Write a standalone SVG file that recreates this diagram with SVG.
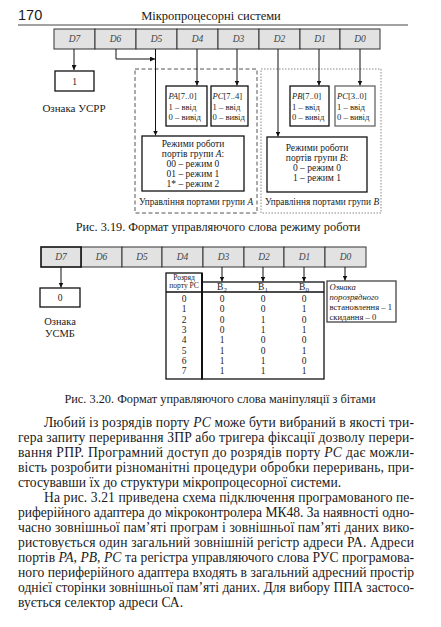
<svg xmlns="http://www.w3.org/2000/svg" width="441" height="627" viewBox="0 0 441 627">
<defs>
<marker id="ar" viewBox="0 0 6 6" refX="6" refY="3" markerWidth="5" markerHeight="5" orient="auto" markerUnits="userSpaceOnUse">
<path d="M0,0 L6,3 L0,6 z" fill="#111"/>
</marker>
<style>
text{fill:#1a1a1a}
.reg{fill:#e2e2e2;stroke:#333;stroke-width:1}
.rl{font-size:9.5px;font-style:italic;fill:#444;text-anchor:middle}
.box{fill:#fff;stroke:#111;stroke-width:1.3}
.bt{font-size:9.5px}
.st{font-size:8.6px}
.c{text-anchor:middle}
.i{font-style:italic}
.cn{fill:none;stroke:#111;stroke-width:1}
.body{font-size:13.6px}
.cap{font-size:12.3px;text-anchor:middle}
.tb{font-size:9.5px;text-anchor:middle}
</style>
</defs>
<rect width="441" height="627" fill="#fff"/>
<g font-family="'Liberation Serif', 'DejaVu Serif', 'Times New Roman', serif">

<g id="header">
<text x="18" y="20" font-family="'Liberation Sans', Arial, sans-serif" font-size="14.5">170</text>
<text x="211" y="20" class="c" font-size="12.5">Мікропроцесорні системи</text>
<line x1="18" y1="25" x2="408" y2="25" stroke="#444" stroke-width="1"/>
</g>

<!-- Figure 3.19 -->
<g id="reg1">
<rect class="reg" x="54" y="29" width="41" height="20"/>
<rect class="reg" x="95" y="29" width="41" height="20"/>
<rect class="reg" x="136" y="29" width="41" height="20"/>
<rect class="reg" x="177" y="29" width="41" height="20"/>
<rect class="reg" x="218" y="29" width="41" height="20"/>
<rect class="reg" x="259" y="29" width="41" height="20"/>
<rect class="reg" x="300" y="29" width="40" height="20"/>
<rect class="reg" x="340" y="29" width="40" height="20"/>
<text class="rl" x="74.5" y="42">D7</text>
<text class="rl" x="115.5" y="42">D6</text>
<text class="rl" x="156.5" y="42">D5</text>
<text class="rl" x="197.5" y="42">D4</text>
<text class="rl" x="238.5" y="42">D3</text>
<text class="rl" x="279.5" y="42">D2</text>
<text class="rl" x="320" y="42">D1</text>
<text class="rl" x="360" y="42">D0</text>
</g>

<g id="groupA">
<rect x="135" y="69" width="122" height="144" fill="none" stroke="#555" stroke-width="1" stroke-dasharray="4,2.5"/>
<text class="c" x="196" y="205" font-size="9.3">Управління портами групи <tspan class="i">A</tspan></text>
</g>
<g id="groupB">
<rect x="261" y="69" width="120" height="144" fill="none" stroke="#888" stroke-width="1" stroke-dasharray="1.5,1.5"/>
<text class="c" x="322" y="205" font-size="9.3">Управління портами групи <tspan class="i">B</tspan></text>
</g>

<g id="usrr">
<rect class="box" x="55" y="71" width="39" height="20"/>
<text class="bt c" x="74.5" y="85">1</text>
<text class="c" x="74" y="112" font-size="11">Ознака УСРР</text>
</g>

<g id="pa">
<rect class="box" x="166" y="86" width="41" height="40"/>
<text class="st" x="168.5" y="99"><tspan class="i">PA</tspan>[7..0]</text>
<text class="st" x="168.5" y="109.5">1 – ввід</text>
<text class="st" x="168.5" y="120">0 – вивід</text>
</g>
<g id="pch">
<rect class="box" x="211" y="86" width="37" height="40"/>
<text class="st" x="212.5" y="99"><tspan class="i">PC</tspan>[7..4]</text>
<text class="st" x="212.5" y="109.5">1 – ввід</text>
<text class="st" x="212.5" y="120">0 – вивід</text>
</g>
<g id="pb">
<rect class="box" x="290" y="86" width="39" height="40"/>
<text class="st" x="292" y="99"><tspan class="i">PB</tspan>[7..0]</text>
<text class="st" x="292" y="109.5">1 – ввід</text>
<text class="st" x="292" y="120">0 – вивід</text>
</g>
<g id="pcl">
<rect x="335" y="86" width="40" height="40" fill="#fff" stroke="#666" stroke-width="1.3"/>
<text class="st" x="337" y="99"><tspan class="i">PC</tspan>[3..0]</text>
<text class="st" x="337" y="109.5">1 – ввід</text>
<text class="st" x="337" y="120">0 – вивід</text>
</g>

<g id="modeA">
<rect class="box" x="142" y="136" width="102" height="55"/>
<text class="bt c" x="193" y="147">Режими роботи</text>
<text class="bt c" x="193" y="157">портів групи <tspan class="i">A</tspan>:</text>
<text class="bt c" x="193" y="167">00 – режим 0</text>
<text class="bt c" x="193" y="177">01 – режим 1</text>
<text class="bt c" x="193" y="187">1* – режим 2</text>
</g>
<g id="modeB">
<rect class="box" x="267" y="137" width="100" height="55"/>
<text class="bt c" x="317" y="151">Режими роботи</text>
<text class="bt c" x="317" y="161">портів групи <tspan class="i">B</tspan>:</text>
<text class="bt c" x="317" y="171">0 – режим 0</text>
<text class="bt c" x="317" y="181">1 – режим 1</text>
</g>

<g id="connectors1">
<path class="cn" d="M74,49 V70" marker-end="url(#ar)"/>
<path class="cn" d="M116,49 V59 H155" marker-end="url(#ar)"/>
<path class="cn" d="M155.5,49 V135.5" marker-end="url(#ar)"/>
<path class="cn" d="M197,49 V85.5" marker-end="url(#ar)"/>
<path class="cn" d="M237,49 V85.5" marker-end="url(#ar)"/>
<path class="cn" d="M278,49 V136.5" marker-end="url(#ar)"/>
<path class="cn" d="M319,49 V85.5" marker-end="url(#ar)"/>
<path class="cn" d="M360,49 V85.5" marker-end="url(#ar)"/>
</g>

<text class="cap" x="218" y="231">Рис. 3.19. Формат управляючого слова режиму роботи</text>

<!-- Figure 3.20 -->
<g id="reg2">
<rect class="reg" x="81" y="247" width="41" height="20"/>
<rect class="reg" x="122" y="247" width="40" height="20"/>
<rect class="reg" x="162" y="247" width="41" height="20"/>
<rect class="reg" x="203" y="247" width="41" height="20"/>
<rect class="reg" x="244" y="247" width="40" height="20"/>
<rect class="reg" x="284" y="247" width="41" height="20"/>
<rect class="reg" x="325" y="247" width="41" height="20"/>
<rect x="41" y="247" width="40" height="20" fill="#e2e2e2" stroke="#111" stroke-width="1.6"/>
<text class="rl" x="61" y="260">D7</text>
<text class="rl" x="101.5" y="260">D6</text>
<text class="rl" x="142" y="260">D5</text>
<text class="rl" x="182.5" y="260">D4</text>
<text class="rl" x="223.5" y="260">D3</text>
<text class="rl" x="264" y="260">D2</text>
<text class="rl" x="304.5" y="260">D1</text>
<text class="rl" x="345.5" y="260">D0</text>
</g>

<g id="usmb">
<rect class="box" x="40" y="288" width="40" height="19"/>
<text class="bt c" x="60" y="301">0</text>
<text class="c" x="60" y="325" font-size="10.5">Ознака</text>
<text class="c" x="60" y="337" font-size="10.5">УСМБ</text>
</g>

<g id="table">
<rect x="166" y="273" width="36" height="106" fill="#fff" stroke="#111" stroke-width="1.3"/>
<rect x="202" y="282" width="122" height="97" fill="#fff" stroke="#111" stroke-width="1.3"/>
<line x1="202" y1="273" x2="202" y2="379" stroke="#111" stroke-width="2"/>
<line x1="166" y1="292" x2="324" y2="292" stroke="#111" stroke-width="1.3"/>
<text class="c" x="184" y="280" font-size="7.5">Розряд</text>
<text class="c" x="184" y="288" font-size="7.5">порту PC</text>
<text class="tb" x="222" y="290">B<tspan dy="2" font-size="7">2</tspan></text>
<text class="tb" x="263" y="290">B<tspan dy="2" font-size="7">1</tspan></text>
<text class="tb" x="304" y="290">B<tspan dy="2" font-size="7">0</tspan></text>
<g class="tb">
<text x="184" y="302">0</text><text x="222" y="302">0</text><text x="263" y="302">0</text><text x="304" y="302">0</text>
<text x="184" y="312.3">1</text><text x="222" y="312.3">0</text><text x="263" y="312.3">0</text><text x="304" y="312.3">1</text>
<text x="184" y="322.6">2</text><text x="222" y="322.6">0</text><text x="263" y="322.6">1</text><text x="304" y="322.6">0</text>
<text x="184" y="332.9">3</text><text x="222" y="332.9">0</text><text x="263" y="332.9">1</text><text x="304" y="332.9">1</text>
<text x="184" y="343.2">4</text><text x="222" y="343.2">1</text><text x="263" y="343.2">0</text><text x="304" y="343.2">0</text>
<text x="184" y="353.5">5</text><text x="222" y="353.5">1</text><text x="263" y="353.5">0</text><text x="304" y="353.5">1</text>
<text x="184" y="363.8">6</text><text x="222" y="363.8">1</text><text x="263" y="363.8">1</text><text x="304" y="363.8">0</text>
<text x="184" y="374.1">7</text><text x="222" y="374.1">1</text><text x="263" y="374.1">1</text><text x="304" y="374.1">1</text>
</g>
</g>

<g id="setreset">
<rect x="327" y="281" width="69" height="41" fill="#fff" stroke="#444" stroke-width="1.3"/>
<text class="st i" x="329.5" y="289.5">Ознака</text>
<text class="st i" x="329.5" y="299.5">порозрядного</text>
<text class="st" x="329.5" y="309.5">встановлення – 1</text>
<text class="st" x="329.5" y="319.5">скидання – 0</text>
</g>

<g id="connectors2">
<path class="cn" d="M61,267 V287.5" marker-end="url(#ar)"/>
<path class="cn" d="M222,267 V281.5" marker-end="url(#ar)"/>
<path class="cn" d="M263,267 V281.5" marker-end="url(#ar)"/>
<path class="cn" d="M304,267 V281.5" marker-end="url(#ar)"/>
<path class="cn" d="M345,267 V280.5" marker-end="url(#ar)"/>
</g>

<text class="cap" x="220" y="403">Рис. 3.20. Формат управляючого слова маніпуляції з бітами</text>

<g id="bodytext" class="body">
<text x="44" y="427" textLength="370" lengthAdjust="spacing">Любий із розрядів порту <tspan class="i">PC</tspan> може бути вибраний в якості три-</text>
<text x="18" y="442" textLength="396" lengthAdjust="spacing">гера запиту переривання ЗПР або тригера фіксації дозволу перери-</text>
<text x="18" y="457" textLength="396" lengthAdjust="spacing">вання РПР. Програмний доступ до розрядів порту <tspan class="i">PC</tspan> дає можли-</text>
<text x="18" y="472" textLength="396" lengthAdjust="spacing">вість розробити різноманітні процедури обробки переривань, при-</text>
<text x="18" y="487">стосувавши їх до структури мікропроцесорної системи.</text>
<text x="44" y="502" textLength="370" lengthAdjust="spacing">На рис. 3.21 приведена схема підключення програмованого пе-</text>
<text x="18" y="517" textLength="396" lengthAdjust="spacing">риферійного адаптера до мікроконтролера МК48. За наявності одно-</text>
<text x="18" y="532" textLength="396" lengthAdjust="spacing">часно зовнішньої пам’яті програм і зовнішньої пам’яті даних вико-</text>
<text x="18" y="547" textLength="396" lengthAdjust="spacing">ристовується один загальний зовнішній регістр адреси РА. Адреси</text>
<text x="18" y="562" textLength="396" lengthAdjust="spacing">портів <tspan class="i">PA</tspan>, <tspan class="i">PB</tspan>, <tspan class="i">PC</tspan> та регістра управляючого слова РУС програмова-</text>
<text x="18" y="577" textLength="396" lengthAdjust="spacing">ного периферійного адаптера входять в загальний адресний простір</text>
<text x="18" y="592" textLength="396" lengthAdjust="spacing">однієї сторінки зовнішньої пам’яті даних. Для вибору ППА застосо-</text>
<text x="18" y="607">вується селектор адреси СА.</text>
</g>
</g>
</svg>
